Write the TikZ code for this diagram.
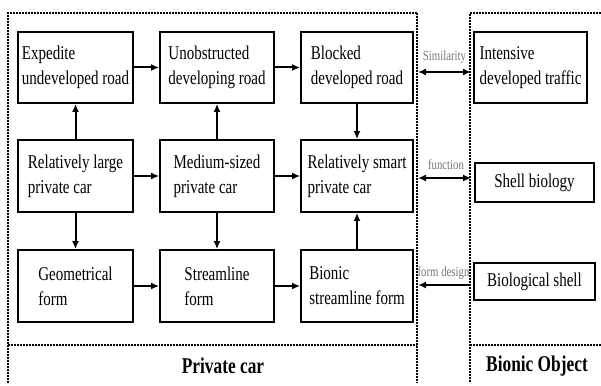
\documentclass[tikz,border=0pt]{standalone}
\usepackage{fontspec}
\usetikzlibrary{arrows.meta}
\newfontfamily\condserif[FakeStretch=0.77]{Liberation Serif}
\definecolor{labelgray}{RGB}{118,118,118}
\begin{document}
\begin{tikzpicture}[x=1pt,y=-1pt,
  box/.style={draw,line width=1.8pt,inner sep=0pt,align=left,
    font=\condserif\fontsize{19.5}{25}\selectfont},
  flow/.style={line width=2pt,-{Latex[length=8pt,width=7pt]}},
  twoway/.style={line width=2pt,{Latex[length=8pt,width=7pt]}-{Latex[length=8pt,width=7pt]}},
  frame/.style={line width=2pt,dash pattern=on 1.6pt off 1.4pt},
  relname/.style={text=labelgray,font=\condserif\fontsize{14}{16}\selectfont,inner sep=0pt},
  title/.style={font=\condserif\bfseries\fontsize{22.5}{26}\selectfont,inner sep=0pt}]
\useasboundingbox (0,0) rectangle (601,385);

% dotted frames
\draw[frame] (417,13) -- (8,13) -- (8,383);
\draw[frame] (417,13) -- (417,383);
\draw[frame] (8,345) -- (417,345);
\draw[frame] (601,13) -- (470,13) -- (470,383);
\draw[frame] (470,345) -- (601,345);

% private car boxes
\node[box,minimum width=115pt,minimum height=71pt] (r1) at (75.5,67.5) {Expedite\\undeveloped road};
\node[box,minimum width=114pt,minimum height=71pt] (r2) at (217,67.5) {Unobstructed\\developing road};
\node[box,minimum width=112pt,minimum height=71pt] (r3) at (357,67.5) {Blocked\\developed road};
\node[box,minimum width=115pt,minimum height=72pt] (c1) at (75.5,176) {Relatively large\\private car};
\node[box,minimum width=114pt,minimum height=72pt] (c2) at (217,176) {Medium-sized\\private car};
\node[box,minimum width=112pt,minimum height=72pt] (c3) at (357,176) {Relatively smart\\private car};
\node[box,minimum width=115pt,minimum height=72pt] (f1) at (75.5,286) {Geometrical\\form};
\node[box,minimum width=114pt,minimum height=72pt] (f2) at (217,286) {Streamline\\form};
\node[box,minimum width=112pt,minimum height=72pt] (f3) at (357,286) {Bionic\\streamline form};

% bionic object boxes
\node[box,minimum width=113pt,minimum height=71pt] (b1) at (530.5,67.5) {Intensive\\developed traffic};
\node[box,minimum width=119pt,minimum height=39pt] (b2) at (534.5,182.5) {Shell biology};
\node[box,minimum width=121pt,minimum height=37pt] (b3) at (534.5,281.5) {Biological shell};

% flows inside the private car frame
\draw[flow] (r1) -- (r2);
\draw[flow] (r2) -- (r3);
\draw[flow] (c1) -- (c2);
\draw[flow] (c2) -- (c3);
\draw[flow] (f1) -- (f2);
\draw[flow] (f2) -- (f3);
\draw[flow] (c1) -- (r1);
\draw[flow] (c2) -- (r2);
\draw[flow] (r3) -- (c3);
\draw[flow] (c1) -- (f1);
\draw[flow] (c2) -- (f2);
\draw[flow] (f3) -- (c3);

% links across the frames
\coordinate (simL) at (418,72);
\coordinate (simR) at (471,72);
\coordinate (funL) at (418,178);
\coordinate (funR) at (471,178);
\coordinate (frmL) at (418,285);
\coordinate (frmR) at (471,285);
\draw[twoway] (simL) -- (simR);
\draw[twoway] (funL) -- (funR);
\draw[flow] (frmR) -- (frmL);
\node[relname] (simT) at (444.5,57) {Similarity};
\node[relname] (funT) at (446,165) {function};
\node[relname] (frmT) at (443.5,273) {form design};

% frame titles
\node[title] (pc) at (223,366) {Private car};
\node[title] (bo) at (537,366) {Bionic Object};
\end{tikzpicture}
\end{document}
